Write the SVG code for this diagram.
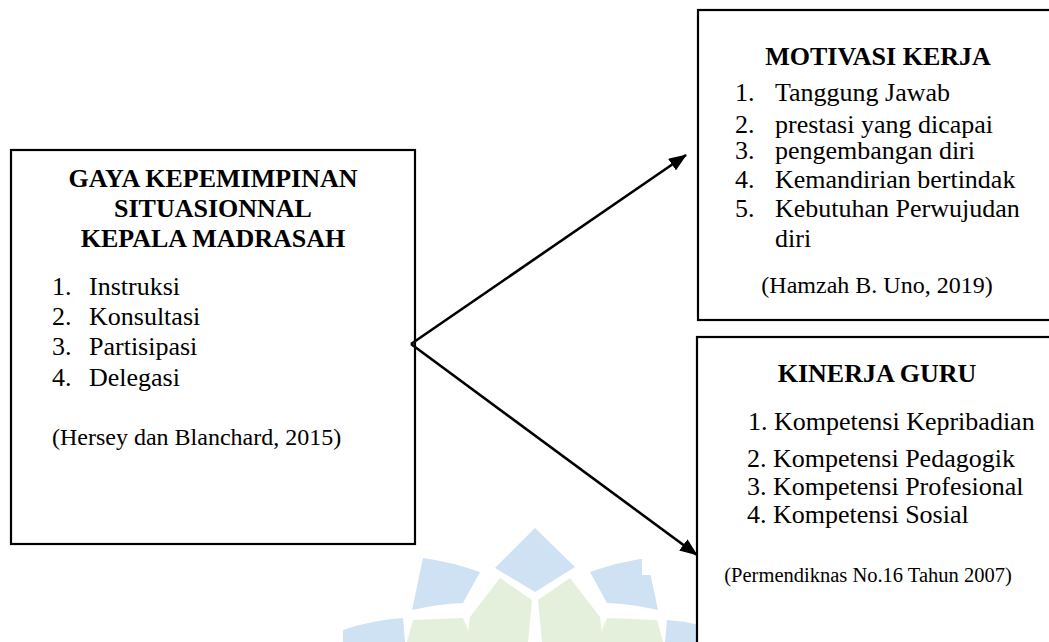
<svg xmlns="http://www.w3.org/2000/svg" width="1049" height="642" viewBox="0 0 1049 642">
  <style>
    .box { fill: #ffffff; stroke: #000000; stroke-width: 2.2; }
    .t { font-family: "Liberation Serif", "Times New Roman", serif; fill: #000000; }
    .h { font-size: 26px; font-weight: bold; text-anchor: middle; }
    .i { font-size: 26px; }
    .c { font-size: 24px; }
    .cs { font-size: 20.5px; text-anchor: middle; }
    .mid { text-anchor: middle; }
    .conn { stroke: #000000; stroke-width: 2.6; fill: none; }
    .wb { fill: #cfe2f3; }
    .wg { fill: #e4f0dc; }
  </style>
  <defs>
    <marker id="arrow" viewBox="0 0 18 14" refX="17" refY="7" markerWidth="18" markerHeight="14" markerUnits="userSpaceOnUse" orient="auto">
      <path d="M0,0 L18,7 L0,14 z" fill="#000000"/>
    </marker>
  </defs>

  <rect x="0" y="0" width="1049" height="642" fill="#ffffff"/>

  <!-- faint watermark logo -->
  <g id="watermark">
    <polygon class="wb" points="535,528 575,567 535,592 495,568"/>
    <path class="wb" d="M423,558 Q452,562 480,572 L463,603 Q438,604 412,610 Z"/>
    <path class="wb" d="M647,558 Q618,562 590,572 L607,603 Q632,604 658,610 Z"/>
    <polygon class="wg" points="500,578 532,600 528,642 467,642 470,617"/>
    <polygon class="wg" points="570,578 538,600 542,642 603,642 600,617"/>
    <polygon class="wg" points="413,620 463,618 473,642 407,642"/>
    <polygon class="wg" points="657,620 607,618 597,642 663,642"/>
    <path class="wb" d="M343,630 Q372,620 403,618 L405,642 L343,642 Z"/>
    <path class="wb" d="M667,620 Q684,621 700,625 L700,642 L665,642 Z"/>
    <rect x="642" y="557" width="20" height="18" fill="#ffffff"/>
  </g>

  <g id="node-gaya">
    <rect class="box" x="11" y="150" width="404" height="394"/>
    <text class="t h" x="213" y="187">GAYA KEPEMIMPINAN</text>
    <text class="t h" x="213" y="217">SITUASIONNAL</text>
    <text class="t h" x="213" y="247">KEPALA MADRASAH</text>
    <text class="t i" x="52" y="295">1.</text><text class="t i" x="89" y="295">Instruksi</text>
    <text class="t i" x="52" y="325">2.</text><text class="t i" x="89" y="325">Konsultasi</text>
    <text class="t i" x="52" y="355">3.</text><text class="t i" x="89" y="355">Partisipasi</text>
    <text class="t i" x="52" y="386">4.</text><text class="t i" x="89" y="386">Delegasi</text>
    <text class="t c" x="52" y="445">(Hersey dan Blanchard, 2015)</text>
  </g>

  <g id="node-motivasi">
    <rect class="box" x="698" y="10" width="370" height="310"/>
    <text class="t h" x="878" y="65">MOTIVASI KERJA</text>
    <text class="t i" x="735" y="101">1.</text><text class="t i" x="775" y="101">Tanggung Jawab</text>
    <text class="t i" x="735" y="133">2.</text><text class="t i" x="775" y="133">prestasi yang dicapai</text>
    <text class="t i" x="735" y="159">3.</text><text class="t i" x="775" y="159">pengembangan diri</text>
    <text class="t i" x="735" y="188">4.</text><text class="t i" x="775" y="188">Kemandirian bertindak</text>
    <text class="t i" x="735" y="217">5.</text><text class="t i" x="775" y="217">Kebutuhan Perwujudan</text>
    <text class="t i" x="775" y="247">diri</text>
    <text class="t c mid" x="877" y="293">(Hamzah B. Uno, 2019)</text>
  </g>

  <g id="node-kinerja">
    <rect class="box" x="697" y="337" width="370" height="320"/>
    <text class="t h" x="877" y="382">KINERJA GURU</text>
    <text class="t i" x="748" y="430">1. Kompetensi Kepribadian</text>
    <text class="t i" x="747" y="467">2. Kompetensi Pedagogik</text>
    <text class="t i" x="747" y="495">3. Kompetensi Profesional</text>
    <text class="t i" x="747" y="523">4. Kompetensi Sosial</text>
    <text class="t cs" x="868" y="582">(Permendiknas No.16 Tahun 2007)</text>
  </g>

  <g id="connectors">
    <line class="conn" x1="411" y1="344" x2="686" y2="155" marker-end="url(#arrow)"/>
    <line class="conn" x1="411" y1="344" x2="697" y2="555" marker-end="url(#arrow)"/>
  </g>
</svg>
